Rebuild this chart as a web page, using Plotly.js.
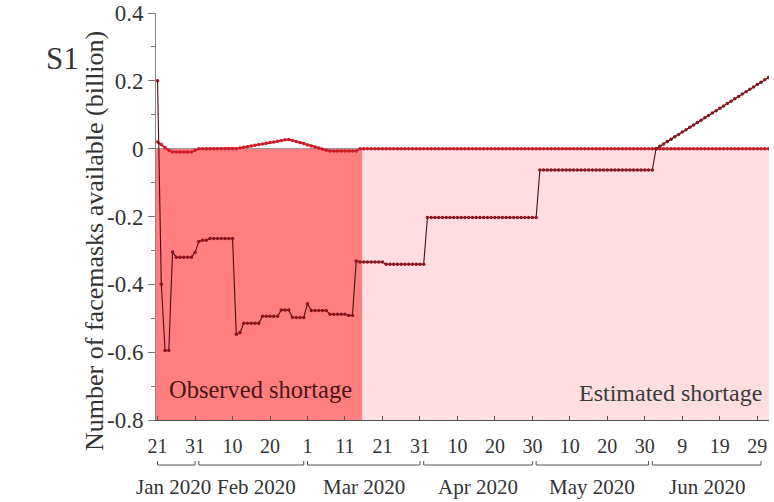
<!DOCTYPE html>
<html>
<head>
<meta charset="utf-8">
<script src="https://cdn.plot.ly/plotly-3.0.1.min.js"></script>
<style>html,body{margin:0;padding:0;background:#fff;}#chart{width:774px;height:502px;}</style>
</head>
<body>
<div id="chart"></div>
<script>
// ---- data (daily values, billion facemasks) ----
const startDate = '2020-01-21';

const darkValues = [
  0.200, -0.400, -0.595, -0.595, -0.305,
  -0.320, -0.320, -0.320, -0.320, -0.320,
  -0.306, -0.274, -0.270, -0.270,
  -0.265, -0.265, -0.265, -0.265, -0.265, -0.265, -0.265,
  -0.547, -0.542,
  -0.515, -0.515, -0.515, -0.515, -0.515,
  -0.494, -0.494, -0.494, -0.494, -0.494,
  -0.476, -0.476, -0.476,
  -0.498, -0.498, -0.498, -0.498,
  -0.457,
  -0.477, -0.477, -0.477, -0.477, -0.477,
  -0.488, -0.488, -0.488, -0.488, -0.488,
  -0.492, -0.492,
  -0.331,
  -0.334, -0.334, -0.334, -0.334, -0.334, -0.334, -0.334,
  -0.341, -0.341, -0.341, -0.341, -0.341, -0.341, -0.341, -0.341, -0.341, -0.341, -0.341,
  -0.203, -0.203, -0.203, -0.203, -0.203, -0.203, -0.203, -0.203, -0.203, -0.203,
  -0.203, -0.203, -0.203, -0.203, -0.203, -0.203, -0.203, -0.203, -0.203, -0.203,
  -0.203, -0.203, -0.203, -0.203, -0.203, -0.203, -0.203, -0.203, -0.203, -0.203,
  -0.063, -0.063, -0.063, -0.063, -0.063, -0.063, -0.063, -0.063, -0.063, -0.063,
  -0.063, -0.063, -0.063, -0.063, -0.063, -0.063, -0.063, -0.063, -0.063, -0.063,
  -0.063, -0.063, -0.063, -0.063, -0.063, -0.063, -0.063, -0.063, -0.063, -0.063,
  -0.063,
  0.000,
  0.007, 0.014, 0.021, 0.028, 0.035, 0.042, 0.049, 0.056, 0.063, 0.070,
  0.077, 0.084, 0.091, 0.098, 0.105, 0.112, 0.119, 0.126, 0.133, 0.140,
  0.147, 0.154, 0.161, 0.168, 0.175, 0.182, 0.189, 0.196, 0.203, 0.210
];

const redValues = [
  0.020, 0.012, 0.003, -0.005, -0.010,
  -0.010, -0.010, -0.010, -0.010, -0.010,
  -0.005,
  0, 0, 0, 0, 0, 0, 0, 0, 0, 0, 0,
  0.002, 0.004, 0.006, 0.008, 0.010, 0.012, 0.014, 0.016, 0.018, 0.020, 0.022, 0.024, 0.026,
  0.027,
  0.024, 0.021, 0.018, 0.015, 0.011, 0.008, 0.005, 0.002, -0.002, -0.005,
  -0.007, -0.007, -0.007, -0.007, -0.007, -0.007, -0.007, -0.007,
  0, 0, 0, 0, 0, 0, 0, 0, 0, 0,
  0, 0, 0, 0, 0, 0, 0, 0, 0, 0,
  0, 0, 0, 0, 0, 0, 0, 0, 0, 0,
  0, 0, 0, 0, 0, 0, 0, 0, 0, 0,
  0, 0, 0, 0, 0, 0, 0, 0, 0, 0,
  0, 0, 0, 0, 0, 0, 0, 0, 0, 0,
  0, 0, 0, 0, 0, 0, 0, 0, 0, 0,
  0, 0, 0, 0, 0, 0, 0, 0, 0, 0,
  0, 0, 0, 0, 0, 0, 0, 0, 0, 0,
  0, 0, 0, 0, 0, 0, 0, 0, 0, 0,
  0, 0, 0, 0, 0, 0, 0, 0, 0, 0
];

const tickDates = ['2020-01-21','2020-01-31','2020-02-10','2020-02-20','2020-03-01','2020-03-11',
  '2020-03-21','2020-03-31','2020-04-10','2020-04-20','2020-04-30','2020-05-10','2020-05-20',
  '2020-05-30','2020-06-09','2020-06-19','2020-06-29'];
const tickLabels = ['21','31','10','20','1','11','21','31','10','20','30','10','20','30','9','19','29'];

const monthLabels = ['Jan 2020','Feb 2020','Mar 2020','Apr 2020','May 2020','Jun 2020'];
const monthStarts = ['2020-01-21','2020-02-01','2020-03-01','2020-04-01','2020-05-01','2020-06-01'];
const monthEnds   = ['2020-01-31','2020-02-29','2020-03-31','2020-04-30','2020-05-31','2020-06-30'];

const yTickVals = [-0.8, -0.6, -0.4, -0.2, 0, 0.2, 0.4];
const yTickText = ['-0.8', '-0.6', '-0.4', '-0.2', '0', '0.2', '0.4'];

const regionLabels = ['Observed shortage', 'Estimated shortage'];
const regionStarts = ['2020-01-20 14:00', '2020-03-15 16:00'];
const regionEnds   = ['2020-03-15 16:00', '2020-07-02 03:00'];

// ---- build dates ----
function dayString(i) {
  const d = new Date(startDate + 'T00:00:00Z');
  d.setUTCDate(d.getUTCDate() + i);
  return d.toISOString().slice(0, 10);
}
const dates = darkValues.map((_, i) => dayString(i));
function midDate(a, b) {
  const ta = new Date(a + 'T00:00:00Z').getTime(), tb = new Date(b + 'T00:00:00Z').getTime();
  const m = new Date((ta + tb) / 2);
  return m.toISOString().slice(0, 19).replace('T', ' ');
}

const serif = 'Liberation Serif, Times New Roman, serif';

const traces = [
  {
    x: dates, y: redValues, type: 'scatter', mode: 'lines+markers',
    line: {color: '#e3232f', width: 2},
    marker: {color: '#c81c28', size: 3.5},
    hoverinfo: 'skip', showlegend: false
  },
  {
    x: dates, y: darkValues, type: 'scatter', mode: 'lines+markers',
    line: {color: '#4a0c10', width: 1.1},
    marker: {color: '#8c141c', size: 3.5},
    hoverinfo: 'skip', showlegend: false
  }
];

const shapes = [];
const regionColors = ['#ff7f80', '#ffdde0'];
regionLabels.forEach((_, i) => {
  shapes.push({type: 'rect', xref: 'x', yref: 'y', x0: regionStarts[i], x1: regionEnds[i],
    y0: -0.8, y1: 0, fillcolor: regionColors[i], line: {width: 0}, layer: 'below'});
});
const brY = -0.1106, brTop = -0.1007;
monthLabels.forEach((_, i) => {
  const ln = {color: '#555', width: 1};
  shapes.push({type: 'line', xref: 'x', yref: 'paper', x0: monthStarts[i], x1: monthEnds[i], y0: brY, y1: brY, line: ln});
  shapes.push({type: 'line', xref: 'x', yref: 'paper', x0: monthStarts[i], x1: monthStarts[i], y0: brY, y1: brTop, line: ln});
  shapes.push({type: 'line', xref: 'x', yref: 'paper', x0: monthEnds[i], x1: monthEnds[i], y0: brY, y1: brTop, line: ln});
});

const annotations = [];
monthLabels.forEach((lab, i) => {
  annotations.push({xref: 'x', yref: 'paper', x: midDate(monthStarts[i], monthEnds[i]), y: -0.1646,
    text: lab, showarrow: false, xanchor: 'center', yanchor: 'middle',
    xshift: i === 0 ? -3 : (i === 1 ? 5 : 0),
    font: {family: serif, size: 21, color: '#333'}});
});
annotations.push({xref: 'x', yref: 'y', x: '2020-01-23 12:00', y: -0.71, text: regionLabels[0],
  showarrow: false, xanchor: 'left', yanchor: 'middle', font: {family: serif, size: 24.5, color: '#4a1416'}});
annotations.push({xref: 'x', yref: 'y', x: '2020-06-30 18:00', y: -0.72, text: regionLabels[1],
  showarrow: false, xanchor: 'right', yanchor: 'middle', font: {family: serif, size: 24, color: '#3a3a3a'}});
annotations.push({xref: 'paper', yref: 'paper', x: -0.0995, y: 0.44, text: 'Number of facemasks available (billion)',
  textangle: -90, showarrow: false, xanchor: 'center', yanchor: 'middle', font: {family: serif, size: 26, color: '#333'}});
annotations.push({xref: 'paper', yref: 'paper', x: -0.153, y: 0.889, text: 'S1',
  showarrow: false, xanchor: 'center', yanchor: 'middle', font: {family: serif, size: 31, color: '#333'}});

const layout = {
  width: 774, height: 502,
  margin: {l: 156, r: 5, t: 13, b: 82},
  paper_bgcolor: '#fff', plot_bgcolor: '#fff',
  showlegend: false,
  xaxis: {
    type: 'date', range: [regionStarts[0], regionEnds[1]],
    tickmode: 'array', tickvals: tickDates, ticktext: tickLabels,
    ticks: 'inside', ticklen: 4, tickcolor: '#555', tickwidth: 1,
    showline: true, linecolor: '#555', linewidth: 1,
    showgrid: false, zeroline: false, ticklabelstandoff: 8,
    tickfont: {family: serif, size: 20, color: '#333'}
  },
  yaxis: {
    range: [-0.8, 0.4], tickmode: 'array', tickvals: yTickVals, ticktext: yTickText,
    ticks: 'outside', ticklen: 7, tickcolor: '#777', tickwidth: 1,
    minor: {dtick: 0.1, tick0: 0, ticks: 'outside', ticklen: 4, tickcolor: '#777'},
    showline: true, linecolor: '#888', linewidth: 1,
    showgrid: false, zeroline: true, zerolinecolor: '#999', zerolinewidth: 1,
    tickfont: {family: serif, size: 23, color: '#333'}
  },
  shapes: shapes,
  annotations: annotations
};

Plotly.newPlot('chart', traces, layout, {staticPlot: true, displayModeBar: false});
</script>
</body>
</html>
